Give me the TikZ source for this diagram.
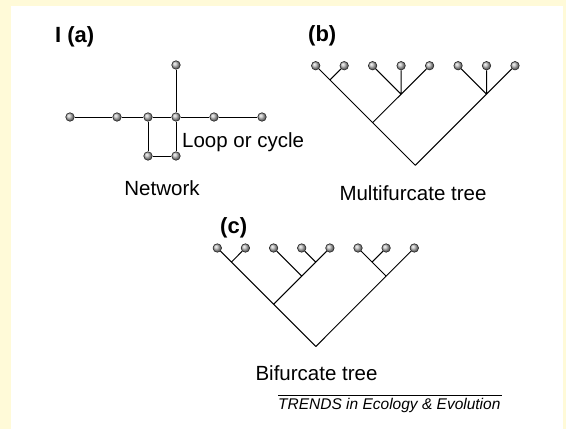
\documentclass[tikz,border=0pt]{standalone}
\usepackage{fontspec}
\setmainfont{Liberation Sans}
\usepackage{tikz}
\usetikzlibrary{positioning}

\definecolor{pagebg}{HTML}{FFFAD8}

\begin{document}
\begin{tikzpicture}[x=1pt,y=-1pt,
    ball/.style={circle,draw=black!85,line width=0.6pt,ball color=gray!55,
      minimum size=8.5pt,inner sep=0pt},
    txt/.style={inner sep=0pt,font=\fontsize{20.5}{24}\selectfont},
    tag/.style={inner sep=0pt,font=\fontsize{22}{26}\selectfont\bfseries},
    link/.style={draw,line width=1pt}]
      \useasboundingbox (0,0) rectangle (566,429);
      \fill[pagebg] (0,0) rectangle (566,429);
      \fill[white] (11,6) rectangle (563,429);

      % (a) network
      \node[tag,anchor=base west] (taga) at (55,42.5) {I (a)};
      \node[ball] (w1) at (70,117) {};
      \node[ball] (w2) at (117,117) {};
      \node[ball] (w3) at (148,117) {};
      \node[ball] (w4) at (176,117) {};
      \node[ball] (w5) at (214,117) {};
      \node[ball] (w6) at (262,117) {};
      \node[ball] (wtop) at (176,65) {};
      \node[ball] (wbl) at (148,156) {};
      \node[ball] (wbr) at (176,156) {};
      \path[link]
      (w1) -- (w2) (w2) -- (w3) (w3) -- (w4) (w4) -- (w5) (w5) -- (w6)
      (wtop) -- (w4) (w3) -- (wbl) (wbl) -- (wbr) (wbr) -- (w4);
      \node[txt,anchor=base west] (loop) at (182,147) {Loop or cycle};
      \node[txt,anchor=base] (net) at (162,195) {Network};

      % (b) multifurcate tree
      \node[tag,anchor=base west] (tagb) at (308,41.7) {(b)};
      \node[ball] (b1) at (315.7,65.7) {};
      \node[ball] (b2) at (344.2,65.7) {};
      \node[ball] (b3) at (372.6,65.7) {};
      \node[ball] (b4) at (401.1,65.7) {};
      \node[ball] (b5) at (429.6,65.7) {};
      \node[ball] (b6) at (458.1,65.7) {};
      \node[ball] (b7) at (486.5,65.7) {};
      \node[ball] (b8) at (515.0,65.7) {};
      \coordinate (b12) at (329.9,79.9);
      \coordinate (b345) at (401.1,94.2);
      \coordinate (b1to5) at (372.6,122.6);
      \coordinate (b678) at (486.5,94.2);
      \coordinate (broot) at (415.3,165.3);
      \path[link]
      (b1) -- (b12) -- (b1to5) -- (broot)
      (b2) -- (b12)
      (b3) -- (b345) (b4) -- (b345)
      (b5) -- (b345) -- (b1to5)
      (b6) -- (b678) (b7) -- (b678)
      (b8) -- (b678) -- (broot);
      \node[txt,anchor=base] (multi) at (413,200) {Multifurcate tree};

      % (c) bifurcate tree
      \node[tag,anchor=base west] (tagc) at (220,233.3) {(c)};
      \node[ball] (c1) at (217.3,248) {};
      \node[ball] (c2) at (245.4,248) {};
      \node[ball] (c3) at (273.6,248) {};
      \node[ball] (c4) at (301.7,248) {};
      \node[ball] (c5) at (329.9,248) {};
      \node[ball] (c6) at (358.0,248) {};
      \node[ball] (c7) at (386.1,248) {};
      \node[ball] (c8) at (414.3,248) {};
      \coordinate (c12) at (231.4,262.1);
      \coordinate (c45) at (315.8,262.1);
      \coordinate (c345) at (301.7,276.1);
      \coordinate (c1to5) at (273.6,304.3);
      \coordinate (c67) at (372.1,262.1);
      \coordinate (c678) at (386.1,276.1);
      \coordinate (croot) at (315.8,346.5);
      \path[link]
      (c1) -- (c12) -- (c1to5) -- (croot)
      (c2) -- (c12)
      (c4) -- (c45)
      (c5) -- (c45) -- (c345) -- (c1to5)
      (c3) -- (c345)
      (c6) -- (c67) -- (c678)
      (c7) -- (c67)
      (c8) -- (c678) -- (croot);
      \node[txt,anchor=base] (bif) at (316.5,380) {Bifurcate tree};

      % credit line
      \node[inner sep=0pt,anchor=base west,font=\fontsize{15.5}{18}\selectfont\itshape]
        (trends) at (278,409) {TRENDS in Ecology \& Evolution};
      \coordinate (rulel) at (278,395);
      \coordinate (ruler) at (502,395);
      \draw[line width=0.6pt] (rulel) -- (ruler);
    \end{tikzpicture}
\end{document}
